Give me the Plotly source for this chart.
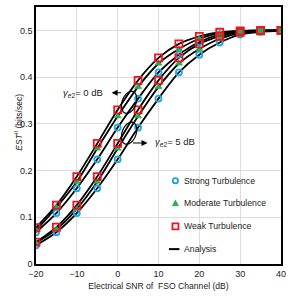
import numpy as np
import plotly.graph_objects as go

snr = [-20, -15, -10, -5, 0, 5, 10, 15, 20, 25, 30, 35, 40]

# gamma_e2 = 0 dB
weak_0 = [0.078, 0.126, 0.187, 0.258, 0.330, 0.393, 0.441, 0.471, 0.487, 0.496, 0.499, 0.500, 0.500]
mod_0 = [0.072, 0.121, 0.176, 0.247, 0.316, 0.379, 0.429, 0.460, 0.482, 0.494, 0.498, 0.500, 0.500]
strong_0 = [0.068, 0.109, 0.162, 0.224, 0.292, 0.354, 0.410, 0.448, 0.475, 0.491, 0.497, 0.499, 0.500]
# gamma_e2 = 5 dB
weak_5 = [0.047, 0.079, 0.126, 0.187, 0.258, 0.330, 0.393, 0.441, 0.471, 0.487, 0.496, 0.499, 0.500]
mod_5 = [0.045, 0.074, 0.118, 0.176, 0.247, 0.316, 0.379, 0.429, 0.460, 0.482, 0.494, 0.498, 0.500]
strong_5 = [0.040, 0.068, 0.109, 0.162, 0.224, 0.292, 0.354, 0.410, 0.448, 0.474, 0.491, 0.497, 0.499]

x_ticks = [-20, -10, 0, 10, 20, 30, 40]
y_ticks = [0, 0.1, 0.2, 0.3, 0.4, 0.5]
y_tick_labels = ["0", "0.1", "0.2", "0.3", "0.4", "0.5"]
legend_names = ["Strong Turbulence", "Moderate Turbulence", "Weak Turbulence", "Analysis"]

BLUE = "#1FA6E0"
GREEN = "#22B04B"
RED = "#F0141E"
FONT = "Liberation Sans, Arial"
TXT = "#222"

W, H = 291, 296
ML, MR, MT, MB = 36, 9, 5, 32
XR = [-20, 40]
YR = [0, 0.55]
pw, ph = W - ML - MR, H - MT - MB
sx = pw / (XR[1] - XR[0])
sy = ph / (YR[1] - YR[0])

fig = go.Figure()

def join(series):
    xs, ys = [], []
    for s in series:
        xs += snr + [None]
        ys += list(s) + [None]
    return xs, ys

# analysis curves
lx, ly = join([weak_0, mod_0, strong_0, weak_5, mod_5, strong_5])
fig.add_trace(go.Scatter(x=lx, y=ly, mode="lines", line=dict(color="black", width=1.8, shape="spline", smoothing=0.8),
                         name=legend_names[3], connectgaps=False))

sx_, sy_ = join([strong_0, strong_5])
fig.add_trace(go.Scatter(x=sx_, y=sy_, mode="markers", name=legend_names[0],
                         marker=dict(symbol="circle-open", size=6, color=BLUE, line=dict(width=1.8, color=BLUE))))
mx_, my_ = join([mod_0, mod_5])
fig.add_trace(go.Scatter(x=mx_, y=my_, mode="markers", name=legend_names[1],
                         marker=dict(symbol="triangle-up", size=6, color=GREEN, line=dict(width=0.8, color=GREEN))))
wx_, wy_ = join([weak_0, weak_5])
fig.add_trace(go.Scatter(x=wx_, y=wy_, mode="markers", name=legend_names[2],
                         marker=dict(symbol="square-open", size=7, color=RED, line=dict(width=1.8, color=RED))))

# ellipses (tilted) drawn in pixel space then converted to data
def ellipse_path(cx, cy, a_px, b_px, tilt_deg):
    t = np.linspace(0, 2 * np.pi, 60)
    th = np.deg2rad(tilt_deg)
    ex = b_px * np.cos(t)
    ey = a_px * np.sin(t)
    rx = ex * np.cos(th) + ey * np.sin(th)
    ry = -ex * np.sin(th) + ey * np.cos(th)
    xs = cx + rx / sx
    ys = cy + ry / sy
    d = "M " + " L ".join(f"{x:.4f},{y:.5f}" for x, y in zip(xs, ys)) + " Z"
    return d

for cy in (0.346, 0.280):
    fig.add_shape(type="path", path=ellipse_path(2.8, cy, 11.5, 7.0, 20), xref="x", yref="y",
                  line=dict(color="black", width=1.2))

ann_font = dict(family=FONT, size=9.5, color=TXT)
# arrows
fig.add_annotation(x=-1.5, y=0.3665, ax=11, ay=0, xref="x", yref="y",
                   text="", showarrow=True, arrowhead=2, arrowsize=1, arrowwidth=1.2, arrowcolor="black")
fig.add_annotation(x=7.3, y=0.259, ax=-16, ay=0, xref="x", yref="y",
                   text="", showarrow=True, arrowhead=2, arrowsize=1, arrowwidth=1.2, arrowcolor="black")
fig.add_annotation(x=-3.2, y=0.366, xref="x", yref="y", xanchor="right", showarrow=False,
                   text="<i>γ</i><sub><i>e</i>2</sub>= 0 dB", font=ann_font)
fig.add_annotation(x=8.6, y=0.262, xref="x", yref="y", xanchor="left", showarrow=False,
                   text="<i>γ</i><sub><i>e</i>2</sub>= 5 dB", font=ann_font)

# y-axis title
fig.add_annotation(x=-(ML - 11) / pw, y=(H - MB - 121) / ph, xref="paper", yref="paper", textangle=-90,
                   showarrow=False, text="<i>EST</i><sup><i>II</i></sup> (bits/sec)",
                   font=dict(family=FONT, size=8.5, color=TXT))

# legend (drawn in paper space)
def px2paper(px, py):
    return (px - ML) / pw, (H - MB - py) / ph

leg_rows = [180, 202.7, 226, 249]
sym_x, txt_x = 176, 183
for name, row in zip(legend_names, leg_rows):
    tx, ty = px2paper(txt_x, row)
    fig.add_annotation(x=tx, y=ty, xref="paper", yref="paper", xanchor="left", yanchor="middle",
                       showarrow=False, text=name, font=dict(family=FONT, size=8.7, color=TXT))
ax0, ay0 = px2paper(sym_x, leg_rows[0])
fig.add_shape(type="circle", xref="paper", yref="paper", xsizemode="pixel", ysizemode="pixel",
              xanchor=ax0, yanchor=ay0, x0=-2.6, x1=2.6, y0=-2.6, y1=2.6, line=dict(color=BLUE, width=1.8))
ax1, ay1 = px2paper(sym_x, leg_rows[1])
fig.add_shape(type="path", xref="paper", yref="paper", xsizemode="pixel", ysizemode="pixel",
              xanchor=ax1, yanchor=ay1, path="M -3,-2.5 L 3,-2.5 L 0,3 Z",
              fillcolor=GREEN, line=dict(color=GREEN, width=0.8))
ax2, ay2 = px2paper(sym_x, leg_rows[2])
fig.add_shape(type="rect", xref="paper", yref="paper", xsizemode="pixel", ysizemode="pixel",
              xanchor=ax2, yanchor=ay2, x0=-3, x1=3, y0=-3, y1=3, line=dict(color=RED, width=1.8))
ax3, ay3 = px2paper(sym_x, leg_rows[3])
fig.add_shape(type="line", xref="paper", yref="paper", xsizemode="pixel", ysizemode="pixel",
              xanchor=ax3, yanchor=ay3, x0=-6.5, x1=4, y0=0, y1=0, line=dict(color="black", width=2))

fig.update_layout(
    width=W, height=H,
    margin=dict(l=ML, r=MR, t=MT, b=MB),
    paper_bgcolor="white", plot_bgcolor="white",
    font=dict(family=FONT, size=9, color=TXT),
    showlegend=False,
    xaxis=dict(range=XR, tickvals=x_ticks, showgrid=True, gridcolor="#DCDCDC", gridwidth=1,
               zeroline=False, showline=True, linecolor="black", linewidth=1.5, mirror=True,
               ticks="", tickfont=dict(size=9),
               title=dict(text="Electrical SNR of  FSO Channel (dB)", font=dict(size=8.6), standoff=5)),
    yaxis=dict(range=YR, tickvals=y_ticks, ticktext=y_tick_labels, showgrid=True, gridcolor="#DCDCDC",
               gridwidth=1, zeroline=False, showline=True, linecolor="black", linewidth=1.5, mirror=True,
               ticks="", tickfont=dict(size=9)),
)

fig.write_html("out.html", config={"displayModeBar": False},
               post_script="document.body.style.margin='0';document.body.style.overflow='hidden';")
